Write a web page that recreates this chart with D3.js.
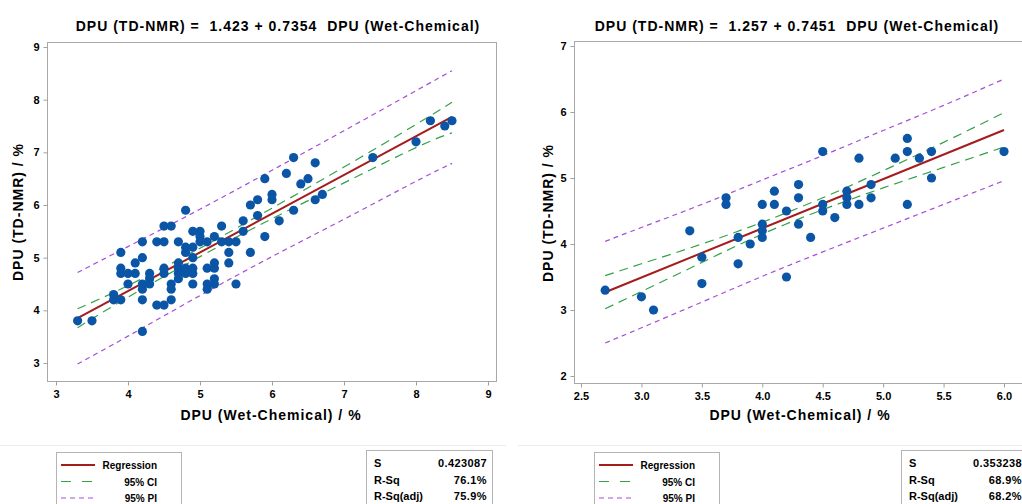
<!DOCTYPE html>
<html>
<head>
<meta charset="utf-8">
<script src="https://cdn.jsdelivr.net/npm/d3@7"></script>
<style>
  body { margin: 0; background: #fff; }
  svg { font-family: "Liberation Sans", Arial, sans-serif; }
  text { white-space: pre; }
</style>
</head>
<body>
<svg id="chart" width="1022" height="504"></svg>
<script>
// ---- left panel (all samples) ----
const leftWet = [3.3,3.5,4.2,3.8,3.8,3.9,3.9,3.9,3.9,4.0,4.1,4.1,4.0,4.2,4.2,4.2,4.2,4.2,4.3,4.3,4.3,4.4,4.4,4.5,4.5,4.5,4.5,4.5,
  4.6,4.6,4.6,4.6,4.7,4.7,4.7,4.7,4.7,4.8,4.8,4.8,4.8,4.8,4.9,4.9,4.9,4.9,4.9,4.9,5.0,5.0,5.0,5.1,5.1,5.1,5.1,
  5.2,5.2,5.2,5.2,5.2,5.3,5.3,5.4,5.4,5.4,5.5,5.5,5.6,5.6,5.7,5.7,5.8,5.9,6.0,6.1,6.3,
  5.8,5.9,6.0,6.2,6.3,6.4,6.5,6.6,6.6,6.7,7.4,8.0,8.2,8.4,8.5];
const leftNmr = [3.8,3.8,3.6,4.3,4.2,4.2,5.1,4.8,4.7,4.7,4.7,4.9,4.5,5.3,5.0,4.5,4.4,4.2,4.7,4.6,4.5,5.3,4.1,5.3,5.6,4.8,4.7,4.1,
  5.6,4.5,4.4,4.2,5.3,4.9,4.8,4.7,4.6,5.9,5.2,5.1,4.8,4.7,5.5,5.2,5.0,4.8,4.7,4.5,5.5,5.4,5.3,5.3,4.8,4.5,4.4,
  5.4,4.9,4.8,4.6,4.5,5.6,5.3,5.3,5.1,4.9,5.3,4.5,5.7,5.5,6.0,5.1,5.8,5.4,6.1,5.7,5.9,
  6.1,6.5,6.2,6.6,6.9,6.4,6.5,6.8,6.1,6.2,6.9,7.2,7.6,7.5,7.6];
const leftFit = [1.423, 0.7354];          // intercept, slope
const leftBandX = [3.3, 4, 5, 6, 7, 8, 8.5];
const leftCiUp = [4.03, 4.47, 5.18, 5.94, 6.72, 7.53, 7.95];
const leftCiLo = [3.67, 4.25, 5.02, 5.74, 6.42, 7.09, 7.37];
const leftPiUp = [4.72, 5.21, 5.92, 6.66, 7.41, 8.17, 8.55];
const leftPiLo = [2.98, 3.51, 4.28, 5.02, 5.73, 6.45, 6.79];
const leftXTicks = [3, 4, 5, 6, 7, 8, 9];
const leftYTicks = [3, 4, 5, 6, 7, 8, 9];
const leftStats = [["S", "0.423087"], ["R-Sq", "76.1%"], ["R-Sq(adj)", "75.9%"]];

// ---- right panel ----
const rightWet = [2.7,3.0,3.1,3.4,3.5,3.5,3.7,3.7,3.8,3.8,3.9,4.0,4.0,4.0,4.0,4.1,4.1,4.2,4.2,4.3,4.3,4.3,4.4,
  4.5,4.5,4.5,4.6,4.7,4.7,4.7,4.8,4.8,4.9,4.9,5.1,5.2,5.2,5.2,5.3,5.4,5.4,6.0];
const rightNmr = [3.3,3.2,3.0,4.2,3.8,3.4,4.7,4.6,4.1,3.7,4.0,4.6,4.3,4.2,4.1,4.8,4.6,4.5,3.5,4.9,4.7,4.3,4.1,
  5.4,4.6,4.5,4.4,4.8,4.7,4.6,5.3,4.6,4.9,4.7,5.3,5.6,5.4,4.6,5.3,5.4,5.0,5.4];
const rightFit = [1.257, 0.7451];
const rightBandX = [2.7, 3.0, 3.5, 4.0, 4.5, 5.0, 5.5, 6.0];
const rightCiUp = [3.52, 3.70, 4.00, 4.33, 4.70, 5.11, 5.54, 5.99];
const rightCiLo = [3.02, 3.28, 3.72, 4.15, 4.52, 4.85, 5.16, 5.47];
const rightPiUp = [4.04, 4.25, 4.60, 4.97, 5.34, 5.72, 6.10, 6.50];
const rightPiLo = [2.50, 2.73, 3.12, 3.51, 3.88, 4.24, 4.60, 4.96];
const rightXTicks = [2.5, 3.0, 3.5, 4.0, 4.5, 5.0, 5.5, 6.0];
const rightYTicks = [2, 3, 4, 5, 6, 7];
const rightStats = [["S", "0.353238"], ["R-Sq", "68.9%"], ["R-Sq(adj)", "68.2%"]];

const legendItems = ["Regression", "95% CI", "95% PI"];

const BLUE = "#0a55a5", RED = "#a51c1c", GREEN = "#35a04a", PURPLE = "#a64fd6";
const svg = d3.select("#chart");

function drawPanel(p) {
  const g = svg.append("g");
  const x = d3.scaleLinear().domain(p.xDom).range(p.xRange);
  const y = d3.scaleLinear().domain(p.yDom).range(p.yRange);

  // frame
  g.append("rect")
    .attr("x", p.frame[0] + 0.5).attr("y", p.frame[2] + 0.5)
    .attr("width", p.frame[1] - p.frame[0]).attr("height", p.frame[3] - p.frame[2])
    .attr("fill", "none").attr("stroke", "#a8a8a8");

  const xAxis = g.append("g")
    .attr("transform", "translate(0," + (p.frame[3] + 0.5) + ")")
    .call(d3.axisBottom(x).tickValues(p.xTicks).tickFormat(p.xFmt).tickSize(4).tickPadding(5));
  const yAxis = g.append("g")
    .attr("transform", "translate(" + (p.frame[0] + 0.5) + ",0)")
    .call(d3.axisLeft(y).tickValues(p.yTicks).tickFormat(d3.format("d")).tickSize(4).tickPadding(4));
  [xAxis, yAxis].forEach(a => {
    a.select(".domain").remove();
    a.selectAll(".tick line").attr("stroke", "#a0a0a0");
    a.selectAll(".tick text").attr("fill", "#000")
      .style("font-size", "11px").style("font-weight", "bold")
      .style("font-family", '"Liberation Sans", Arial, sans-serif');
  });

  const bandLine = d3.line().curve(d3.curveNatural)
    .x((d, i) => x(p.bandX[i])).y(d => y(d));

  [[p.piUp, PURPLE, "5,4"], [p.piLo, PURPLE, "5,4"],
   [p.ciUp, GREEN, "9,6"], [p.ciLo, GREEN, "9,6"]].forEach(([vals, col, dash]) => {
    g.append("path").attr("d", bandLine(vals))
      .attr("fill", "none").attr("stroke", col).attr("stroke-width", 1.2)
      .attr("stroke-dasharray", dash);
  });

  const xs = d3.extent(p.wet);
  g.append("line")
    .attr("x1", x(xs[0])).attr("y1", y(p.fit[0] + p.fit[1] * xs[0]))
    .attr("x2", x(xs[1])).attr("y2", y(p.fit[0] + p.fit[1] * xs[1]))
    .attr("stroke", RED).attr("stroke-width", 2);

  g.selectAll(".pt").data(p.wet).enter().append("circle")
    .attr("cx", d => x(d))
    .attr("cy", (d, i) => y(p.nmr[i]))
    .attr("r", 4.6)
    .attr("fill", BLUE);

  // titles
  g.append("text").attr("x", p.titleX).attr("y", 31)
    .attr("text-anchor", "middle").style("font-size", "14px").style("font-weight", "bold")
    .style("letter-spacing", "1px").text(p.title);
  g.append("text").attr("x", p.xLabelX).attr("y", 420)
    .attr("text-anchor", "middle").style("font-size", "14px").style("font-weight", "bold")
    .style("letter-spacing", "1px").text("DPU (Wet-Chemical) / %");
  g.append("text")
    .attr("transform", "translate(" + p.yLabelX + "," + p.yLabelY + ") rotate(-90)")
    .attr("text-anchor", "middle").style("font-size", "14px").style("font-weight", "bold")
    .style("letter-spacing", "1px").text("DPU (TD-NMR) / %");

  // separator
  g.append("line").attr("x1", p.sep[0]).attr("x2", p.sep[1])
    .attr("y1", 445.5).attr("y2", 445.5).attr("stroke", "#ececec");

  // legend
  const lg = g.append("g").attr("transform", "translate(" + p.legendX + ",452)");
  lg.append("rect").attr("x", 0.5).attr("y", 0.5).attr("width", 125).attr("height", 70)
    .attr("fill", "#fff").attr("stroke", "#b4b4b4");
  const styles = [[RED, null, 2], [GREEN, "10,11", 1.2], [PURPLE, "5,4", 1.2]];
  legendItems.forEach((t, i) => {
    const yy = 13 + i * 16.5;
    lg.append("line").attr("x1", 5).attr("x2", 39).attr("y1", yy).attr("y2", yy)
      .attr("stroke", styles[i][0]).attr("stroke-width", styles[i][2])
      .attr("stroke-dasharray", styles[i][1]);
    lg.append("text").attr("x", 101).attr("y", yy + 4).attr("text-anchor", "end")
      .style("font-size", "10px").style("font-weight", "bold").text(t);
  });

  // stats box
  const sg = g.append("g").attr("transform", "translate(" + p.statsX + ",450)");
  sg.append("rect").attr("x", 0.5).attr("y", 0.5).attr("width", 126).attr("height", 70)
    .attr("fill", "#fff").attr("stroke", "#b4b4b4");
  p.stats.forEach((s, i) => {
    const yy = 17 + i * 16.5;
    sg.append("text").attr("x", 8).attr("y", yy)
      .style("font-size", "11px").style("font-weight", "bold").text(s[0]);
    sg.append("text").attr("x", 121).attr("y", yy).attr("text-anchor", "end")
      .style("font-size", "11px").style("font-weight", "bold")
      .style("letter-spacing", "0.4px").text(s[1]);
  });
}

drawPanel({
  wet: leftWet, nmr: leftNmr, fit: leftFit,
  bandX: leftBandX, ciUp: leftCiUp, ciLo: leftCiLo, piUp: leftPiUp, piLo: leftPiLo,
  xDom: [3, 9], xRange: [56, 488], yDom: [3, 9], yRange: [363, 47],
  frame: [47, 496, 42, 381],
  xTicks: leftXTicks, yTicks: leftYTicks, xFmt: d3.format("d"),
  title: "DPU (TD-NMR) =  " + leftFit[0] + " + " + leftFit[1] + "  DPU (Wet-Chemical)",
  titleX: 278, xLabelX: 271, yLabelX: 23, yLabelY: 212,
  sep: [0, 506], legendX: 56, statsX: 366, stats: leftStats
});

drawPanel({
  wet: rightWet, nmr: rightNmr, fit: rightFit,
  bandX: rightBandX, ciUp: rightCiUp, ciLo: rightCiLo, piUp: rightPiUp, piLo: rightPiLo,
  xDom: [2.5, 6], xRange: [581, 1004], yDom: [2, 7], yRange: [376, 46],
  frame: [574, 1040, 41, 383],
  xTicks: rightXTicks, yTicks: rightYTicks, xFmt: d3.format(".1f"),
  title: "DPU (TD-NMR) =  " + rightFit[0] + " + " + rightFit[1] + "  DPU (Wet-Chemical)",
  titleX: 797, xLabelX: 800, yLabelX: 553, yLabelY: 213,
  sep: [518, 1022], legendX: 594, statsX: 901, stats: rightStats
});
</script>
</body>
</html>
